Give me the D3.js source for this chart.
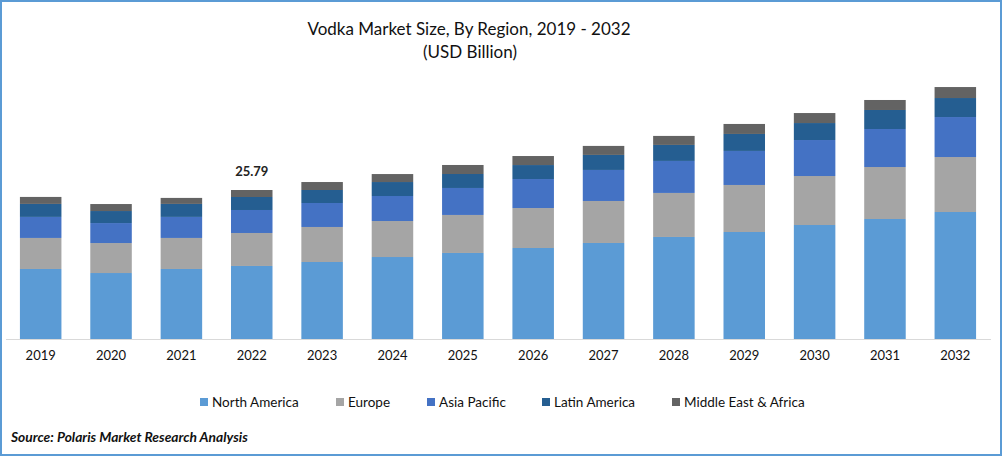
<!DOCTYPE html>
<html>
<head>
<meta charset="utf-8">
<script src="https://cdn.jsdelivr.net/npm/d3@7"></script>
<style>
  html, body { margin: 0; padding: 0; background: #fff; overflow: hidden; }
  svg { display: block; font-family: Lato, "Open Sans", sans-serif; }
</style>
</head>
<body>
<div id="chart"></div>
<script>
const years = ['2019', '2020', '2021', '2022', '2023', '2024', '2025', '2026', '2027', '2028', '2029', '2030', '2031', '2032'];
const regions = ['North America', 'Europe', 'Asia Pacific', 'Latin America', 'Middle East & Africa'];
const regionColors = ['#5b9bd5', '#a5a5a5', '#4472c4', '#255e91', '#636363'];

const northAmerica = [12.12, 11.42, 12.12, 12.64, 13.33, 14.19, 14.89, 15.75, 16.62, 17.66, 18.52, 19.73, 20.77, 21.98];
const europe = [5.37, 5.19, 5.37, 5.71, 6.06, 6.23, 6.58, 6.92, 7.27, 7.62, 8.14, 8.48, 9.00, 9.52];
const asiaPacific = [3.64, 3.46, 3.64, 3.98, 4.15, 4.33, 4.67, 5.02, 5.37, 5.54, 5.89, 6.23, 6.58, 6.92];
const latinAmerica = [2.25, 2.08, 2.25, 2.25, 2.25, 2.42, 2.42, 2.42, 2.60, 2.77, 2.94, 2.94, 3.29, 3.29];
const middleEastAfrica = [1.21, 1.21, 1.04, 1.21, 1.38, 1.38, 1.56, 1.56, 1.56, 1.56, 1.73, 1.73, 1.73, 1.90];

const labelYear = '2022';
const labelValue = '25.79';

const width = 1002;
const height = 456;
const baseline = 339;

const rows = years.map((year, i) => ({
    year,
    'North America': northAmerica[i],
    'Europe': europe[i],
    'Asia Pacific': asiaPacific[i],
    'Latin America': latinAmerica[i],
    'Middle East & Africa': middleEastAfrica[i]
}));

const svg = d3.select('#chart')
    .append('svg')
    .attr('width', width)
    .attr('height', height);

svg.append('rect')
    .attr('x', 1)
    .attr('y', 1)
    .attr('width', width - 2)
    .attr('height', height - 2)
    .attr('fill', '#fff')
    .attr('stroke', '#5b9bd5')
    .attr('stroke-width', 2);

svg.append('text')
    .attr('x', 469)
    .attr('y', 35)
    .attr('text-anchor', 'middle')
    .style('font-size', '17px')
    .style('fill', '#111')
    .text('Vodka Market Size, By Region, 2019 - 2032');

svg.append('text')
    .attr('x', 470)
    .attr('y', 58)
    .attr('text-anchor', 'middle')
    .style('font-size', '17px')
    .style('fill', '#111')
    .text('(USD Billion)');

const xScale = d3.scaleBand()
    .domain(years)
    .range([5.5, 990.5])
    .paddingInner(0.41)
    .paddingOuter(0.205);

// 149px for the labelled 25.79 total in 2022
const yScale = d3.scaleLinear()
    .domain([0, 25.79])
    .range([baseline, baseline - 149]);

const color = d3.scaleOrdinal().domain(regions).range(regionColors);
const series = d3.stack().keys(regions)(rows);

svg.append('g')
    .selectAll('g')
    .data(series)
    .join('g')
    .attr('fill', d => color(d.key))
    .selectAll('rect')
    .data(d => d)
    .join('rect')
    .attr('x', d => xScale(d.data.year))
    .attr('width', xScale.bandwidth())
    .attr('y', d => yScale(d[1]))
    .attr('height', d => yScale(d[0]) - yScale(d[1]));

const axis = svg.append('g')
    .attr('transform', `translate(0,${baseline})`)
    .call(d3.axisBottom(xScale).tickSize(0).tickPadding(12));

axis.select('.domain')
    .attr('stroke', '#d9d9d9')
    .attr('stroke-width', 1.2);

axis.selectAll('text')
    .style('font-family', 'Lato, sans-serif')
    .style('font-size', '13px')
    .style('fill', '#111');

const labelTotal = d3.sum(regions, r => rows[years.indexOf(labelYear)][r]);

svg.append('text')
    .attr('x', xScale(labelYear) + xScale.bandwidth() / 2)
    .attr('y', yScale(labelTotal) - 14)
    .attr('text-anchor', 'middle')
    .style('font-size', '13px')
    .style('font-weight', '700')
    .style('fill', '#222')
    .text(labelValue);

const legendX = [200, 336, 427, 542, 672];

const legend = svg.append('g')
    .selectAll('g')
    .data(regions)
    .join('g')
    .attr('transform', (d, i) => `translate(${legendX[i]},398)`);

legend.append('rect')
    .attr('width', 8)
    .attr('height', 8)
    .attr('fill', d => color(d));

legend.append('text')
    .attr('x', 12)
    .attr('y', 9)
    .style('font-size', '13.5px')
    .style('fill', '#111')
    .text(d => d);

svg.append('text')
    .attr('x', 11)
    .attr('y', 442)
    .style('font-size', '13.8px')
    .style('font-weight', '700')
    .style('font-style', 'italic')
    .style('fill', '#111')
    .text('Source: Polaris  Market Research Analysis');
</script>
</body>
</html>
